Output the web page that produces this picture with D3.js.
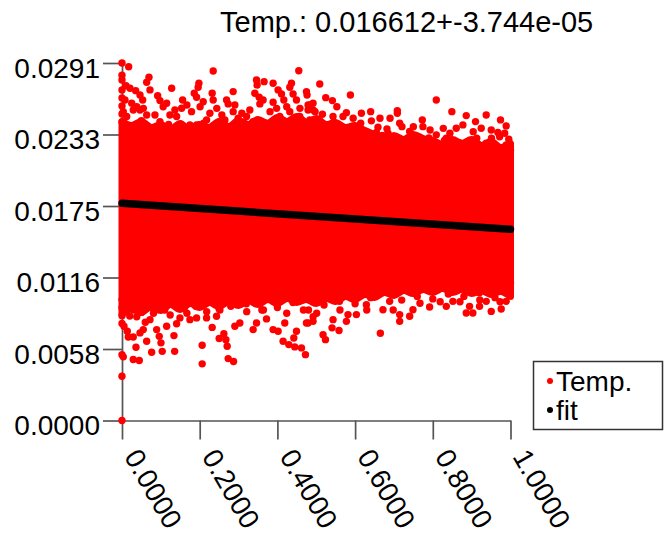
<!DOCTYPE html>
<html>
<head>
<meta charset="utf-8">
<script src="https://cdn.jsdelivr.net/npm/d3@7/dist/d3.min.js"></script>
<style>
  html, body { margin: 0; padding: 0; background: #fff; }
  svg { display: block; font-family: "Liberation Sans", Arial, Helvetica, sans-serif; }
</style>
</head>
<body>
<svg id="chart" width="665" height="544"></svg>
<script>
// ---- data ----
const titleText = "Temp.: 0.016612+-3.744e-05";
const seriesNames = ["Temp.", "fit"];

const xTicks = [0, 0.2, 0.4, 0.6, 0.8, 1.0];
const yTicks = [0, 0.00582, 0.01164, 0.01746, 0.02328, 0.0291];

// dense centre of the Temp. cloud: upper and lower envelope
const coreX = [
  0, 0.025, 0.05, 0.075, 0.1, 0.125, 0.15, 0.175, 0.2, 0.225,
  0.25, 0.275, 0.3, 0.325, 0.35, 0.375, 0.4, 0.425, 0.45, 0.475,
  0.5, 0.525, 0.55, 0.575, 0.6, 0.625, 0.65, 0.675, 0.7, 0.725,
  0.75, 0.775, 0.8, 0.825, 0.85, 0.875, 0.9, 0.925, 0.95, 0.975, 1.0
];
const coreTop = [
  0.02434, 0.02401, 0.02434, 0.02385, 0.02409, 0.02369, 0.02418, 0.02361, 0.02409, 0.02385,
  0.02434, 0.02393, 0.02442, 0.02409, 0.02450, 0.02418, 0.02466, 0.02434, 0.02475, 0.02426,
  0.02458, 0.02409, 0.02426, 0.02385, 0.02401, 0.02361, 0.02328, 0.02287, 0.02320, 0.02287,
  0.02328, 0.02295, 0.02279, 0.02247, 0.02287, 0.02255, 0.02287, 0.02239, 0.02271, 0.02222, 0.02255
];
const coreBottom = [
  0.00863, 0.00912, 0.00879, 0.00928, 0.00895, 0.00944, 0.00904, 0.00952, 0.00920, 0.00961,
  0.00928, 0.00969, 0.00936, 0.00977, 0.00944, 0.00985, 0.00952, 0.00993, 0.00961, 0.00985,
  0.00952, 0.00993, 0.00969, 0.01009, 0.00985, 0.01026, 0.01001, 0.01042, 0.01018, 0.01058,
  0.01034, 0.01066, 0.01042, 0.01074, 0.01042, 0.01066, 0.01034, 0.01058, 0.01026, 0.01050, 0.01009
];

// individual Temp. samples around the dense centre
const tempX = [
  0, 0.0172, 0, 0.2347, 0.4550, 0.0694, 0.0635, 0.1278, 0.1979, 0.1961,
  0.3463, 0.3658, 0.3478, 0.3889, 0.4362, 0.4319, 0.5090, 0.0103, 0.0206, 0.0352,
  0.0463, 0.0532, 0.0720, 0.0918, 0.0977, 0.1560, 0.1859, 0.1920, 0.2090, 0.2321,
  0.2347, 0.2861, 0.2692, 0.2733, 0.2905, 0.2861, 0.3085, 0.3419, 0.3530, 0.3632,
  0.3548, 0.4018, 0.4105, 0.4165, 0.3889, 0.4404, 0.4491, 0.4748, 0.4789, 0.4918,
  0.2262, 0.2177, 0.1362, 0.1535, 0.1234, 0.1406, 0.0290, 0.0463, 0.0635, 0.0848,
  0.0977, 0.0077, 0.0033, 0.0121, 0.1748, 0.1920, 0.2519, 0.2648, 0.3206, 0.3375,
  0.3720, 0.4062, 0.4319, 0.4576, 0.4833,
  0.4763, 0.5244, 0.5416, 0.5879, 0.8090, 0.8491, 0.8861, 0.9375, 0.9743, 0.9889,
  0.9100, 0.6162, 0.6401, 0.6419, 0.6144, 0.5776, 0.5689, 0.5432, 0.5159, 0.4833,
  0.4789, 0.7087, 0.7087, 0.7147, 0.7206, 0.7730, 0.7746, 0.7404, 0.6820, 0.6846,
  0.6589, 0.6548, 0.8090, 0.8347, 0.8604, 0.8774, 0.9247, 0.9504, 0.9674, 0.9956,
  0.9889, 0.9375, 0.4918, 0.5347, 0.5604, 0.6033, 0.6290, 0.7018,
  0, 0, 0.0033, 0.0290, 0.0445, 0.0360, 0.0763, 0.1036, 0.1355, 0.2064,
  0.2064, 0.2501, 0.2733, 0.2871, 0.2707, 0.2674, 0.2622, 0.0051, 0.0136, 0.0162,
  0.0290, 0.0463, 0.0548, 0.0635, 0.0720, 0.0892, 0.0959, 0.1003, 0.1149, 0.1337,
  0.1406, 0.1491, 0.1748, 0.1920, 0.2321, 0.2177, 0.2434, 0.2905, 0.3033, 0.3375,
  0.3463, 0.3720, 0.3889, 0.4018, 0.4147, 0.4293, 0.4422, 0.4491, 0.4447, 0.4620,
  0.4722, 0.4789, 0.4190,
  0.5175, 0.5237, 0.5406, 0.5586, 0.6650, 0.4748, 0.4918, 0.5432, 0.5776, 0.5817,
  0.6033, 0.6717, 0.7147, 0.7147, 0.7404, 0.7489, 0.7918, 0.8347, 0.8861, 0.9031,
  0.8946, 0.9203, 0.9504, 0.9761, 0.9889, 0.9974, 0.6290, 0.6889, 0.8517, 0.9375,
  0, 0, 0, 0, 0, 0, 0, 0, 0, 0, 0,
  1.0, 1.0, 0.998,
  0.010, 0.030, 0.050, 0.075, 0.020, 0.060, 0.110, 0.130, 0.160, 0.190,
  0.220, 0.250, 0.280, 0.320, 0.360, 0.400, 0.440, 0.480, 0.520, 0.560,
  0.600, 0.640, 0.720, 0.760, 0.800, 0.840, 0.880, 0.920, 0.960,
  0.020, 0.050, 0.080, 0.120, 0.180, 0.210, 0.270, 0.300, 0.330, 0.390,
  0.430, 0.470, 0.510, 0.550, 0.590, 0.670, 0.710, 0.790, 0.830, 0.870,
  0.910, 0.950,
  0.025, 0.038, 0.055, 0.106, 0.115, 0.167, 0.179, 0.201, 0.244, 0.257,
  0.299, 0.329, 0.381, 0.398, 0.424, 0.458, 0.497,
  0.492, 0.510, 0.553, 0.595, 0.664, 0.690, 0.750, 0.793, 0.827, 0.844,
  0.904, 0.913, 0.951, 0.972, 0.985,
  0.038, 0.081, 0.124, 0.167, 0.218, 0.252, 0.321, 0.364, 0.424, 0.467, 0.492,
  0.501, 0.561, 0.630, 0.698, 0.767, 0.819, 0.870, 0.921, 0.973
];
const tempY = [
  0.02910, 0.02880, 0.02810, 0.02845, 0.02847, 0.02794, 0.02753, 0.02704, 0.02745, 0.02712,
  0.02772, 0.02758, 0.02731, 0.02745, 0.02745, 0.02712, 0.02739, 0.02725, 0.02704, 0.02685,
  0.02650, 0.02609, 0.02691, 0.02644, 0.02604, 0.02609, 0.02664, 0.02631, 0.02595, 0.02664,
  0.02609, 0.02677, 0.02609, 0.02577, 0.02569, 0.02514, 0.02501, 0.02664, 0.02631, 0.02609,
  0.02577, 0.02691, 0.02658, 0.02609, 0.02591, 0.02658, 0.02609, 0.02677, 0.02569, 0.02582,
  0.02501, 0.02447, 0.02528, 0.02542, 0.02487, 0.02474, 0.02528, 0.02528, 0.02487, 0.02487,
  0.02433, 0.02609, 0.02514, 0.02474, 0.02406, 0.02406, 0.02433, 0.02447, 0.02474, 0.02433,
  0.02420, 0.02474, 0.02514, 0.02474, 0.02447,
  0.02650, 0.02628, 0.02604, 0.02650, 0.02609, 0.02514, 0.02482, 0.02487, 0.02447, 0.02398,
  0.02433, 0.02501, 0.02514, 0.02439, 0.02420, 0.02506, 0.02474, 0.02474, 0.02493, 0.02569,
  0.02528, 0.02522, 0.02501, 0.02420, 0.02392, 0.02447, 0.02392, 0.02352, 0.02374, 0.02339,
  0.02387, 0.02344, 0.02325, 0.02298, 0.02379, 0.02406, 0.02379, 0.02365, 0.02344, 0.02290,
  0.02243, 0.02257, 0.02392, 0.02392, 0.02325, 0.02306, 0.02284, 0.02306,
  0.00360, 0.00000, 0.00518, 0.00496, 0.00488, 0.00596, 0.00555, 0.00563, 0.00563, 0.00612,
  0.00461, 0.00667, 0.00504, 0.00480, 0.00604, 0.00658, 0.00707, 0.00767, 0.00726, 0.00680,
  0.00680, 0.00713, 0.00740, 0.00645, 0.00821, 0.00740, 0.00685, 0.00632, 0.00767, 0.00691,
  0.00788, 0.00835, 0.00821, 0.00835, 0.00758, 0.00835, 0.00848, 0.00767, 0.00794, 0.00740,
  0.00794, 0.00827, 0.00740, 0.00726, 0.00645, 0.00618, 0.00672, 0.00726, 0.00599, 0.00591,
  0.00536, 0.00794, 0.00794,
  0.00699, 0.00658, 0.00754, 0.00732, 0.00710, 0.00794, 0.00807, 0.00821, 0.00807, 0.00862,
  0.00862, 0.00902, 0.00807, 0.00862, 0.00848, 0.00902, 0.00924, 0.00929, 0.00875, 0.00875,
  0.00929, 0.00929, 0.00888, 0.00908, 0.00970, 0.01038, 0.00943, 0.00970, 0.00970, 0.00970,
  0.02772, 0.02690, 0.02625, 0.02560, 0.02495, 0.02430, 0.00984, 0.00919, 0.00853, 0.00790, 0.00536,
  0.02200, 0.01120, 0.01070,
  0.00930, 0.00900, 0.00880, 0.00920, 0.00850, 0.00800, 0.00900, 0.00950, 0.00910, 0.00930,
  0.00960, 0.00910, 0.00930, 0.00950, 0.00900, 0.00920, 0.00960, 0.00900, 0.00940, 0.00970,
  0.00950, 0.01000, 0.00980, 0.01010, 0.00990, 0.01030, 0.01010, 0.01040, 0.01000,
  0.02400, 0.02440, 0.02380, 0.02410, 0.02390, 0.02420, 0.02380, 0.02410, 0.02390, 0.02400,
  0.02370, 0.02380, 0.02360, 0.02370, 0.02340, 0.02320, 0.02290, 0.02300, 0.02280, 0.02260,
  0.02250, 0.02230,
  0.02582, 0.02554, 0.02541, 0.02554, 0.02582, 0.02568, 0.02514, 0.02554, 0.02541, 0.02487,
  0.02460, 0.02527, 0.02514, 0.02541, 0.02554, 0.02541, 0.02514,
  0.02527, 0.02432, 0.02554, 0.02460, 0.02460, 0.02460, 0.02391, 0.02365, 0.02378, 0.02338,
  0.02351, 0.02297, 0.02297, 0.02310, 0.02338,
  0.00845, 0.00873, 0.00859, 0.00873, 0.00886, 0.00899, 0.00886, 0.00899, 0.00873, 0.00899, 0.00845,
  0.00873, 0.00899, 0.00899, 0.00899, 0.00954, 0.00967, 0.00967, 0.00981, 0.00967
];

// least-squares fit line through the samples
const fitX = [0, 1];
const fitY = [0.01768, 0.01556];

// ---- drawing ----
const svg = d3.select("#chart");
svg.append("rect").attr("width", 665).attr("height", 544).attr("fill", "#fff");

const x = d3.scaleLinear().domain([0, 1]).range([122, 510.5]);
const y = d3.scaleLinear().domain([0, 0.0291]).range([420.5, 63]);

const axisColor = "#555";

// x axis
const xAxis = svg.append("g").attr("transform", `translate(0,${y(0)})`)
  .call(d3.axisBottom(x).tickValues(xTicks).tickSize(19).tickSizeOuter(0).tickFormat(d => d.toFixed(4)));
xAxis.select(".domain").attr("stroke", axisColor).attr("stroke-width", 1.7);
xAxis.selectAll(".tick line").attr("stroke", axisColor).attr("stroke-width", 1.7);
xAxis.selectAll(".tick text")
  .attr("fill", "#000")
  .attr("font-size", 28)
  .attr("text-anchor", "start")
  .attr("y", 0).attr("dy", 0)
  .attr("transform", "translate(1,36) rotate(60)");

// y axis
const yAxis = svg.append("g").attr("transform", `translate(${x(0)},0)`)
  .call(d3.axisLeft(y).tickValues(yTicks).tickSize(19).tickSizeOuter(0).tickFormat(d => d.toFixed(4)));
yAxis.select(".domain").attr("stroke", axisColor).attr("stroke-width", 1.7);
yAxis.selectAll(".tick line").attr("stroke", axisColor).attr("stroke-width", 1.7);
yAxis.selectAll(".tick text")
  .attr("fill", "#000")
  .attr("font-size", 28)
  .attr("x", -22)
  .attr("dy", 14);

svg.selectAll(".tick text").attr("font-family", "'Liberation Sans', Arial, Helvetica, sans-serif");

// dense centre of the cloud (stroke widens it by one dot radius)
const core = coreX.map((d, i) => ({ x: d, top: coreTop[i], bottom: coreBottom[i] }));
svg.append("path")
  .datum(core)
  .attr("d", d3.area().curve(d3.curveCatmullRom)
    .x(d => x(d.x)).y0(d => y(d.bottom)).y1(d => y(d.top)))
  .attr("fill", "#ff0000")
  .attr("stroke", "#ff0000")
  .attr("stroke-width", 7)
  .attr("stroke-linejoin", "round");

// individual samples
const temp = tempX.map((d, i) => ({ x: d, y: tempY[i] }));
svg.append("g").selectAll("circle")
  .data(temp)
  .join("circle")
  .attr("cx", d => x(d.x))
  .attr("cy", d => y(d.y))
  .attr("r", 3.7)
  .attr("fill", "#ff0000");

// fit line
const fit = fitX.map((d, i) => ({ x: d, y: fitY[i] }));
svg.append("path")
  .datum(fit)
  .attr("d", d3.line().x(d => x(d.x)).y(d => y(d.y)))
  .attr("fill", "none")
  .attr("stroke", "#000")
  .attr("stroke-width", 7.5)
  .attr("stroke-linecap", "round");

// title
svg.append("text")
  .attr("x", 220).attr("y", 32)
  .attr("font-size", 29)
  .attr("fill", "#000")
  .text(titleText);

// legend
const legend = svg.append("g");
legend.append("rect")
  .attr("x", 533.5).attr("y", 361.5).attr("width", 129).attr("height", 68)
  .attr("fill", "#fff").attr("stroke", "#333").attr("stroke-width", 1.5);
const legendColors = ["#ff0000", "#000"];
seriesNames.forEach((name, i) => {
  legend.append("circle")
    .attr("cx", 550).attr("cy", 381 + i * 29).attr("r", 3)
    .attr("fill", legendColors[i]);
  legend.append("text")
    .attr("x", 556).attr("y", 391 + i * 29)
    .attr("font-size", 28).attr("fill", "#000")
    .text(name);
});
</script>
</body>
</html>
